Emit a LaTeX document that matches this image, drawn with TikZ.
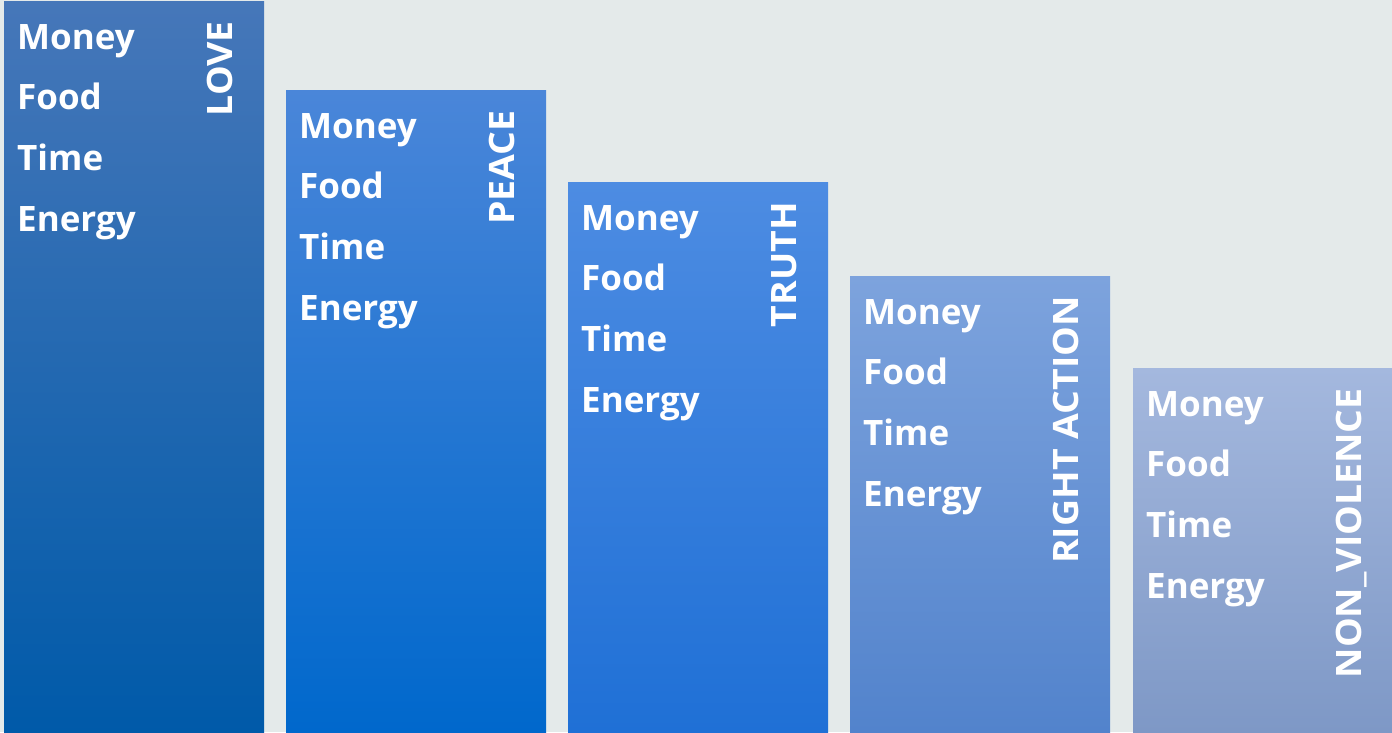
\documentclass[tikz,border=0pt]{standalone}
\usepackage{fontspec}
\setmainfont{Open Sans}
\newfontfamily\virtuefont[FakeStretch=1.07]{Open Sans}
\usetikzlibrary{positioning}
\definecolor{bggray}{HTML}{E4EAEA}
\definecolor{c1t}{HTML}{4677B9}\definecolor{c1b}{HTML}{005AA9}
\definecolor{c2t}{HTML}{4A86D9}\definecolor{c2b}{HTML}{0068CC}
\definecolor{c3t}{HTML}{4D8CE2}\definecolor{c3b}{HTML}{1F70D6}
\definecolor{c4t}{HTML}{7DA3DD}\definecolor{c4b}{HTML}{5283CC}
\definecolor{c5t}{HTML}{A4B8DE}\definecolor{c5b}{HTML}{7E98C6}

\begin{document}
\begin{tikzpicture}[x=1pt,y=-1pt,
                    every node/.style={inner sep=0pt,text=white,
                                       font=\bfseries\fontsize{35}{40}\selectfont},
                    bar/.style={anchor=north west,minimum width=260pt},
                    item/.style={anchor=base west},
                    virtue/.style={rotate=90,anchor=base east,
                                   font=\virtuefont\bfseries\fontsize{35}{40}\selectfont}]
\fill[bggray] (0,0) rectangle (1392,732);
\useasboundingbox (0,0) rectangle (1392,732);
% one bar per virtue, stepping down to the right
\foreach \i/\x/\y/\word in {1/4/1/LOVE,2/286/90/PEACE,3/568/182/TRUTH,
                            4/850/276/RIGHT ACTION,5/1133/368/NON\_VIOLENCE}{
  \node[bar,minimum height={(732-\y)*1pt},top color=c\i t,bottom color=c\i b]
       (bar\i) at (\x,\y) {};
  \foreach \t [count=\k from 0] in {Money,Food,Time,Energy}
    \node[item] (item\i-\k) at (\x+13,\y+48+60.7*\k) {\t};
  \node[virtue] (word\i) at (\x+228,\y+20) {\word};
}
\end{tikzpicture}
\end{document}
